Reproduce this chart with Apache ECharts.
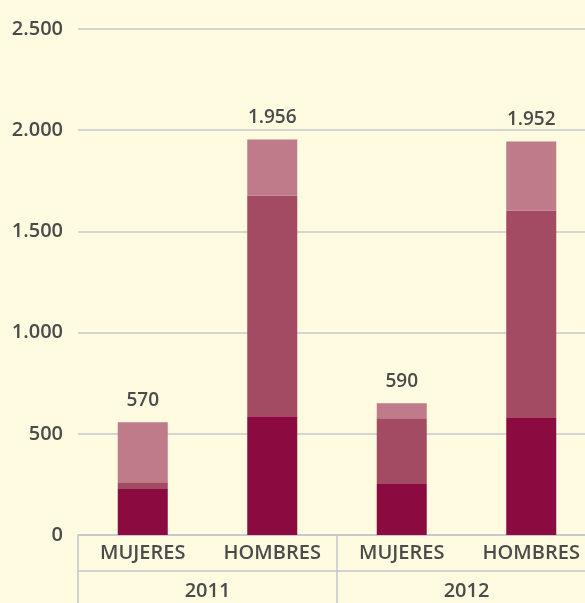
<!DOCTYPE html>
<html><head><meta charset="utf-8">
<script src="https://cdn.jsdelivr.net/npm/echarts@6/dist/echarts.min.js"></script>
<style>html,body{margin:0;padding:0;background:#FEFBE1;overflow:hidden;width:585px;height:603px;}#c{width:596px;height:603px;}</style>
</head><body><div id="c"></div>
<script>
const categories = ['MUJERES','HOMBRES','MUJERES','HOMBRES'];
const years = ['2011','2012'];
const seriesBottom = [227, 587, 252, 582];
const seriesMiddle = [34, 1090, 325, 1021];
const seriesTop = [296, 277, 74, 341];
const totals = [570, 1956, 590, 1952];
const yTicks = [0, 500, 1000, 1500, 2000, 2500];

const FONT = 'Open Sans';
const TXT = '#4b4b4b';
const AX = '#c3c5d0';
const FW = 600;
function fmt(v){ return String(v).replace(/\B(?=(\d{3})+(?!\d))/g, '.'); }

const chart = echarts.init(document.getElementById('c'));
chart.setOption({
  backgroundColor: '#FEFBE1',
  animation: false,
  grid: { left: 78, right: 0, top: 29, bottom: 68, containLabel: false },
  xAxis: [{
    type: 'category', data: categories, position: 'bottom',
    axisLine: { show: true, lineStyle: { color: AX, width: 1.5 } },
    axisTick: { show: true, length: 36, lineStyle: { color: AX, width: 1.5 },
      interval: function(i){ return i % 2 === 0; } },
    axisLabel: { interval: 0, hideOverlap: false, color: TXT, fontFamily: FONT, fontSize: 20, fontWeight: FW, margin: 8 }
  }, {
    type: 'category', data: years, position: 'bottom', offset: 36,
    axisLine: { show: true, lineStyle: { color: AX, width: 1.5 } },
    axisTick: { show: true, length: 40, lineStyle: { color: AX, width: 1.5 } },
    axisLabel: { interval: 0, color: TXT, fontFamily: FONT, fontSize: 20, fontWeight: FW, margin: 10 }
  }],
  yAxis: {
    type: 'value', min: yTicks[0], max: yTicks[yTicks.length-1], interval: yTicks[1]-yTicks[0],
    axisLine: { show: false }, axisTick: { show: false },
    splitLine: { lineStyle: { color: '#c8c8c8', width: 1.5 } },
    axisLabel: { color: TXT, fontFamily: FONT, fontSize: 20, fontWeight: FW, margin: 15, formatter: fmt }
  },
  series: [
    { type: 'bar', stack: 's', data: seriesBottom, barWidth: 50, itemStyle: { color: '#8B0B41' } },
    { type: 'bar', stack: 's', data: seriesMiddle, barWidth: 50, itemStyle: { color: '#A34B62' } },
    { type: 'bar', stack: 's', data: seriesTop, barWidth: 50, itemStyle: { color: '#BF7B8A' },
      label: { show: true, position: 'top', distance: 12, color: TXT, fontFamily: FONT, fontSize: 19, fontWeight: FW,
        formatter: function(p){ return fmt(totals[p.dataIndex]); } } }
  ]
});
</script></body></html>
